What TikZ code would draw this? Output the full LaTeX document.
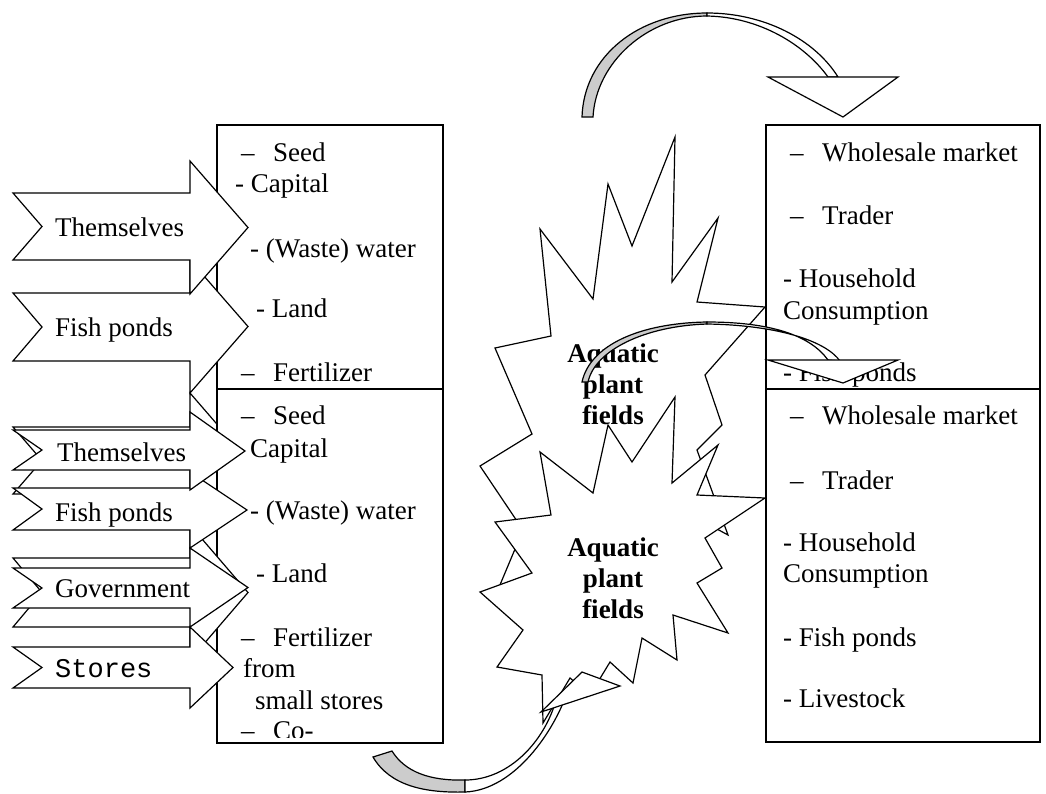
\documentclass[tikz,border=0pt]{standalone}
\usepackage{fontspec}
\setmainfont{Liberation Serif}
\newfontfamily\courierfont{Liberation Mono}
\begin{document}
\begin{tikzpicture}[x=1pt,y=-1pt,
  outline/.style={draw=black,line width=1.2pt,line join=miter,fill=white},
  greyside/.style={draw=black,line width=1.2pt,fill=black!20},
  txt/.style={anchor=base west,inner sep=0pt,font=\fontsize{27}{31}\selectfont},
  startxt/.style={anchor=center,inner sep=0pt,align=center,font=\fontsize{27}{31}\selectfont\bfseries}
]
\useasboundingbox (0,0) rectangle (1046,793);
\fill[white] (0,0) rectangle (1046,793);

% notched block arrow: body top, body bottom, head top, head bottom, tip x
\newcommand\chevronarrow[5]{%
  \path[outline] (13,#1) -- (190,#1) -- (190,#3) -- (#5,{(#3+#4)/2})
    -- (190,#4) -- (190,#2) -- (13,#2) -- (42,{(#1+#2)/2}) -- cycle;}

% ---------- upper input box ----------
\draw[outline] (217,125) rectangle (443,389);
\node[txt] (a1) at (241,161) {\makebox[32pt][l]{–}Seed};
\node[txt] (a2) at (235,192) {- Capital};
\node[txt] (a3) at (250,257) {- (Waste) water};
\node[txt] (a4) at (256,317) {- Land};
\node[txt] (a5) at (241,381) {\makebox[32pt][l]{–}Fertilizer};

% ---------- upper source arrows ----------
\chevronarrow{427}{494}{393}{527}{248}
\chevronarrow{293}{361}{260}{393}{248}
\node[txt] (s2) at (55,336) {Fish ponds};
\chevronarrow{193}{260}{161}{294}{248}
\node[txt] (s1) at (55,236) {Themselves};

% ---------- curved arrow from the lower box (band) ----------
\path[greyside] (373,757) .. controls (390,786) and (425,793) .. (465,792)
  -- (465,780) .. controls (430,781) and (405,772) .. (392,751) -- cycle;
\path[outline] (465,792) .. controls (515,790) and (555,730) .. (568,690)
  -- (556,700) .. controls (545,740) and (510,780) .. (465,780) -- cycle;

% ---------- lower input box ----------
\draw[outline] (217,389) rectangle (443,743);
\begin{scope}
\clip (217,389) rectangle (443,737);
\node[txt] (b1) at (241,424) {\makebox[32pt][l]{–}Seed};
\node[txt] (b2) at (250,457) {Capital};
\node[txt] (b3) at (250,519) {- (Waste) water};
\node[txt] (b4) at (256,582) {- Land};
\node[txt] (b5) at (241,646) {\makebox[32pt][l]{–}Fertilizer};
\node[txt] (b6) at (243,677) {from};
\node[txt] (b7) at (255,709) {small stores};
\node[txt] (b8) at (241,739) {\makebox[32pt][l]{–}Co-};
\end{scope}

% ---------- lower source arrows ----------
\chevronarrow{558}{627}{525}{660}{248}
\chevronarrow{647}{688}{627}{708}{233}
\node[txt,font=\fontsize{27}{31}\selectfont\courierfont] (t4) at (55,677) {Stores};
\chevronarrow{568}{608}{548}{627}{248}
\node[txt] (t3) at (55,597) {Government};
\chevronarrow{488}{530}{472}{548}{247}
\node[txt] (t2) at (55,521) {Fish ponds};
\chevronarrow{430}{470}{412}{490}{245}
\node[txt] (t1) at (57,461) {Themselves};

% ---------- output boxes ----------
\draw[outline] (766,125) rectangle (1040,389);
\node[txt] (c1) at (790,161) {\makebox[32pt][l]{–}Wholesale market};
\node[txt] (c2) at (790,224) {\makebox[32pt][l]{–}Trader};
\node[txt] (c3) at (783,287) {- Household};
\node[txt] (c4) at (783,319) {Consumption};
\node[txt] (c5) at (783,381) {- Fish ponds};
\draw[outline] (766,389) rectangle (1040,742);
\node[txt] (d1) at (790,424) {\makebox[32pt][l]{–}Wholesale market};
\node[txt] (d2) at (790,489) {\makebox[32pt][l]{–}Trader};
\node[txt] (d3) at (783,551) {- Household};
\node[txt] (d4) at (783,582) {Consumption};
\node[txt] (d5) at (783,646) {- Fish ponds};
\node[txt] (d6) at (783,707) {- Livestock};

% ---------- explosion shapes ----------
\path[outline] (608,184) -- (632,246) -- (675,137) -- (672,282) -- (718,218)
  -- (697,302) -- (765,307) -- (705,375) -- (722,425) -- (697,450) -- (728,535)
  -- (673,505) -- (677,580) -- (642,543) -- (633,619) -- (610,584) -- (580,648)
  -- (565,602) -- (543,687) -- (542,606) -- (497,592) -- (523,530) -- (480,466)
  -- (532,434) -- (495,348) -- (551,336) -- (540,229) -- (593,299) -- cycle;
\node[startxt] (f1) at (613,384) {Aquatic\\plant\\fields};

\path[outline] (608,425) -- (632,462) -- (675,397) -- (672,483) -- (718,445)
  -- (697,495) -- (765,498) -- (705,538) -- (722,568) -- (697,583) -- (728,633)
  -- (673,615) -- (677,660) -- (642,638) -- (633,683) -- (610,662) -- (590,695)
  -- (570,678) -- (543,723) -- (542,675) -- (497,667) -- (523,630) -- (480,592)
  -- (532,573) -- (495,522) -- (551,515) -- (540,452) -- (593,493) -- cycle;
\node[startxt] (f2) at (613,578) {Aquatic\\plant\\fields};

% head of the curved arrow from the lower box
\path[outline] (541,712) -- (582,672) -- (620,686) -- cycle;

% ---------- curved arrow over the top ----------
\path[greyside] (582,117) .. controls (584,55) and (640,13) .. (707,13)
  -- (707,16) .. controls (648,16) and (596,62) .. (593,117) -- cycle;
\path[outline] (707,13) .. controls (765,13) and (815,40) .. (838,77)
  -- (828,77) .. controls (805,45) and (760,17) .. (707,16) -- cycle;
\path[outline] (768,77) -- (898,77) -- (843,117) -- cycle;

% ---------- curved arrow from the fields ----------
\path[greyside] (582,382) .. controls (590,345) and (640,323) .. (707,322)
  -- (707,324) .. controls (645,326) and (595,350) .. (588,382) -- cycle;
\path[outline] (707,322) .. controls (770,322) and (810,335) .. (828,360)
  -- (840,361) .. controls (825,340) and (775,325) .. (707,324) -- cycle;
\path[outline] (768,360) -- (898,360) -- (843,383) -- cycle;
\end{tikzpicture}
\end{document}
